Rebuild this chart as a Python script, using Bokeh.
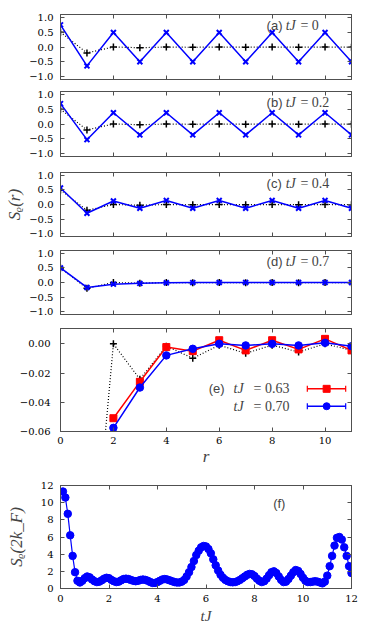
from bokeh.plotting import figure
from bokeh.layouts import column
from bokeh.models import Range1d, LinearAxis, FixedTicker, Label
from bokeh.embed import file_html
from bokeh.resources import INLINE

# ---------------- data ----------------
r = [0, 1, 2, 3, 4, 5, 6, 7, 8, 9, 10, 11]
# equilibrium reference (black dotted, "+")
s_ref = [0.50, -0.20, 0.000, -0.0242, -0.0016, -0.0099, -0.0009, -0.0065, -0.0009, -0.0056, 0.0000, -0.0045]
# blue "x" series in panels (a)-(c)
s_t00 = [0.75, -0.64, 0.49, -0.50, 0.49, -0.50, 0.49, -0.50, 0.49, -0.50, 0.49, -0.50]
s_t02 = [0.69, -0.53, 0.38, -0.37, 0.38, -0.37, 0.38, -0.37, 0.38, -0.37, 0.38, -0.37]
s_t04 = [0.57, -0.30, 0.12, -0.13, 0.14, -0.13, 0.14, -0.13, 0.14, -0.13, 0.14, -0.13]
# tJ = 0.70 (panel d and blue circles of panel e)
s_t070 = [0.50, -0.17, -0.0575, -0.0299, -0.0079, -0.0034, 0.0000, -0.0011, 0.0000, -0.0011, 0.0007, -0.0016]
# tJ = 0.63 (red squares of panel e)
r_e = [2, 3, 4, 5, 6, 7, 8, 9, 10, 11]
s_t063 = [-0.0509, -0.0260, -0.0022, -0.0050, 0.0025, -0.0045, 0.0025, -0.0038, 0.0034, -0.0045]

# panel (f): S_rho(2k_F) versus tJ
tJ = [0.1, 0.2, 0.3, 0.4, 0.5, 0.6, 0.7, 0.8, 0.9, 1.0,
      1.1, 1.2, 1.3, 1.4, 1.5, 1.6, 1.7, 1.8, 1.9, 2.0,
      2.1, 2.2, 2.3, 2.4, 2.5, 2.6, 2.7, 2.8, 2.9, 3.0,
      3.1, 3.2, 3.3, 3.4, 3.5, 3.6, 3.7, 3.8, 3.9, 4.0,
      4.1, 4.2, 4.3, 4.4, 4.5, 4.6, 4.7, 4.8, 4.9, 5.0,
      5.1, 5.2, 5.3, 5.4, 5.5, 5.6, 5.7, 5.8, 5.9, 6.0,
      6.1, 6.2, 6.3, 6.4, 6.5, 6.6, 6.7, 6.8, 6.9, 7.0,
      7.1, 7.2, 7.3, 7.4, 7.5, 7.6, 7.7, 7.8, 7.9, 8.0,
      8.1, 8.2, 8.3, 8.4, 8.5, 8.6, 8.7, 8.8, 8.9, 9.0,
      9.1, 9.2, 9.3, 9.4, 9.5, 9.6, 9.7, 9.8, 9.9, 10.0,
      10.1, 10.2, 10.3, 10.4, 10.5, 10.6, 10.7, 10.8, 10.9, 11.0,
      11.1, 11.2, 11.3, 11.4, 11.5, 11.6, 11.7, 11.8, 11.9, 12.0]
s2kf = [11.3, 10.6, 8.7, 6.2, 3.8, 1.9, 0.9, 0.7, 0.9, 1.2,
        1.4, 1.3, 1.05, 0.85, 0.75, 0.8, 0.95, 1.15, 1.25, 1.2,
        1.0, 0.85, 0.75, 0.8, 0.95, 1.1, 1.15, 1.1, 1.0, 0.9,
        0.85, 0.9, 1.0, 1.05, 1.0, 0.9, 0.75, 0.65, 0.65, 0.75,
        0.9, 1.05, 1.1, 1.05, 0.95, 0.85, 0.75, 0.7, 0.7, 0.8,
        1.0, 1.4, 1.9, 2.5, 3.2, 3.9, 4.4, 4.8, 4.95, 4.9,
        4.6, 4.1, 3.4, 2.7, 2.1, 1.6, 1.25, 1.0, 0.85, 0.75,
        0.72, 0.75, 0.85, 1.0, 1.2, 1.4, 1.6, 1.7, 1.65, 1.45,
        1.15, 0.9, 0.75, 0.85, 1.15, 1.55, 1.9, 2.0, 1.8, 1.4,
        1.0, 0.75, 0.8, 1.1, 1.5, 1.9, 2.15, 2.05, 1.7, 1.25,
        0.9, 0.75, 0.75, 0.8, 0.85, 0.8, 0.7, 0.6, 0.8, 1.5,
        2.6, 3.8, 5.0, 5.9, 6.0, 5.7, 4.8, 3.8, 2.6, 1.8]

# tick values and labels
r_ticks = [0, 2, 4, 6, 8, 10]
r_tick_labels = ["0", "2", "4", "6", "8", "10"]
s_ticks = [-1, -0.5, 0, 0.5, 1]
s_tick_labels = ["\u22121.0", "\u22120.5", "0.0", "0.5", "1.0"]
e_ticks = [-0.06, -0.04, -0.02, 0]
e_tick_labels = ["\u22120.06", "\u22120.04", "\u22120.02", "0.00"]
f_ticks = [0, 2, 4, 6, 8, 10, 12]
f_tick_labels = ["0", "2", "4", "6", "8", "10", "12"]

panel_tags = ["(a)", "(b)", "(c)", "(d)"]
panel_tj = ["= 0", "= 0.2", "= 0.4", "= 0.7"]
legend_tj = ["= 0.63", "= 0.70"]

# ---------------- style ----------------
BLUE = "#0000ff"
RED = "#ff0000"
AX = "#505050"
TICK_FONT = "DejaVu Serif"
LBL_FONT = "Liberation Serif"


def style_axis(ax, ticks, labels=None, size="10px", standoff=7):
    ax.ticker = FixedTicker(ticks=ticks)
    ax.minor_tick_line_color = None
    ax.major_tick_in = 4
    ax.major_tick_out = 0
    ax.axis_line_color = AX
    ax.major_tick_line_color = AX
    ax.axis_line_width = 1
    if labels is not None:
        ax.major_label_overrides = dict(zip(ticks, labels))
        ax.major_label_text_font = TICK_FONT
        ax.major_label_text_font_size = size
        ax.major_label_text_color = "black"
        ax.major_label_standoff = standoff
    else:
        ax.major_label_text_color = None
        ax.major_label_text_font_size = "1px"
        ax.major_label_standoff = 0


def make_fig(xr, yr, fh, top, bottom, xt, xl, yt, yl, ystandoff=7, xstandoff=5):
    p = figure(frame_width=291, frame_height=fh,
               x_range=Range1d(*xr), y_range=Range1d(*yr),
               min_border_left=60, min_border_right=10,
               min_border_top=top, min_border_bottom=bottom,
               output_backend="svg", toolbar_location=None, tools="")
    p.grid.visible = False
    p.outline_line_color = AX
    p.background_fill_color = "white"
    p.border_fill_color = "white"
    style_axis(p.below[0], xt, xl, standoff=xstandoff)
    style_axis(p.left[0], yt, yl, standoff=ystandoff)
    top_ax = LinearAxis()
    right_ax = LinearAxis()
    p.add_layout(top_ax, "above")
    p.add_layout(right_ax, "right")
    style_axis(top_ax, xt)
    style_axis(right_ax, yt)
    return p


def set_label(ax, text, size, standoff):
    ax.axis_label = text
    ax.axis_label_text_font = LBL_FONT
    ax.axis_label_text_font_style = "italic"
    ax.axis_label_text_font_size = size
    ax.axis_label_standoff = standoff


def add_ref(p, start=0):
    p.line(r[start:], s_ref[start:], line_color="black", line_width=1.2, line_dash="1 2")
    p.scatter(r[start:], s_ref[start:], marker="cross", size=7, line_color="black", line_width=1.5)


def add_tag(p, i, y):
    p.add_layout(Label(x=7.79, y=y, text=panel_tags[i], text_font="Liberation Sans",
                       text_font_size="13px", text_baseline="middle", text_align="left"))
    p.add_layout(Label(x=8.51, y=y, text="tJ", text_font=LBL_FONT, text_font_style="italic",
                       text_font_size="14px", text_baseline="middle", text_align="left"))
    p.add_layout(Label(x=9.07, y=y, text=panel_tj[i], text_font=LBL_FONT,
                       text_font_size="14px", text_baseline="middle", text_align="left"))


# panels (a)-(d)
series = [s_t00, s_t02, s_t04, s_t070]
geom = [(65, 14, 6), (65, 6, 8), (64, 8, 7), (64, 7, 7)]
figs = []
for i, (s, (fh, top, bottom)) in enumerate(zip(series, geom)):
    p = make_fig((0, 11), (-1.1, 1.1), fh, top, bottom, r_ticks, None, s_ticks, s_tick_labels)
    add_ref(p)
    p.line(r, s, line_color=BLUE, line_width=1.5)
    p.scatter(r, s, marker="x", size=7, line_color=BLUE, line_width=2)
    add_tag(p, i, 0.73)
    figs.append(p)

# y-axis label on panel (c)
set_label(figs[2].left[0], "S\u1d68(r)", "17px", 2)

# panel (e)
pe = make_fig((0, 11), (-0.06, 0.0105), 103, 7, 40, r_ticks, r_tick_labels, e_ticks, e_tick_labels,
              ystandoff=10, xstandoff=5)
add_ref(pe, start=1)
pe.line(r_e, s_t063, line_color=RED, line_width=1.5)
pe.scatter(r_e, s_t063, marker="square", size=7, fill_color=RED, line_color=RED)
pe.line(r[2:], s_t070[2:], line_color=BLUE, line_width=1.5)
pe.scatter(r[2:], s_t070[2:], marker="circle", size=7.5, fill_color=BLUE, line_color=BLUE)
set_label(pe.below[0], "r", "17px", 0)

# legend of panel (e): text on the left, sample on the right
leg_y = [-0.0308, -0.0427]
leg_colors = [RED, BLUE]
leg_markers = ["square", "circle"]
leg_x0, leg_x1, leg_xm = 9.33, 10.78, 10.06
pe.add_layout(Label(x=5.60, y=leg_y[0], text="(e)", text_font="Liberation Sans",
                    text_font_size="13px", text_baseline="middle", text_align="left"))
for yy, txt, col, mk in zip(leg_y, legend_tj, leg_colors, leg_markers):
    pe.add_layout(Label(x=6.54, y=yy, text="tJ", text_font=LBL_FONT, text_font_style="italic",
                        text_font_size="14px", text_baseline="middle", text_align="left"))
    pe.add_layout(Label(x=7.30, y=yy, text=txt, text_font=LBL_FONT,
                        text_font_size="14px", text_baseline="middle", text_align="left"))
    pe.line([leg_x0, leg_x1], [yy, yy], line_color=col, line_width=1.5)
    pe.scatter([leg_x0, leg_x1], [yy, yy], marker="dash", angle=1.5708, size=6,
               line_color=col, line_width=1.2)
    pe.scatter([leg_xm], [yy], marker=mk, size=7, fill_color=col, line_color=col)

# panel (f)
pf = make_fig((0, 12), (0, 12), 103, 14, 38, f_ticks, f_tick_labels, f_ticks, f_tick_labels,
              ystandoff=7, xstandoff=6)
pf.line(tJ, s2kf, line_color=BLUE, line_width=1.2)
pf.scatter(tJ, s2kf, marker="circle", size=7.5, fill_color=BLUE, line_color=BLUE)
pf.add_layout(Label(x=8.77, y=9.87, text="(f)", text_font="Liberation Sans",
                    text_font_size="13px", text_baseline="middle", text_align="left"))
set_label(pf.left[0], "S\u1d68(2k_F)", "17px", 12)
set_label(pf.below[0], "tJ", "15px", 3)

layout = column(*figs, pe, pf, spacing=0)
open("out.html", "w").write(file_html(layout, INLINE))
